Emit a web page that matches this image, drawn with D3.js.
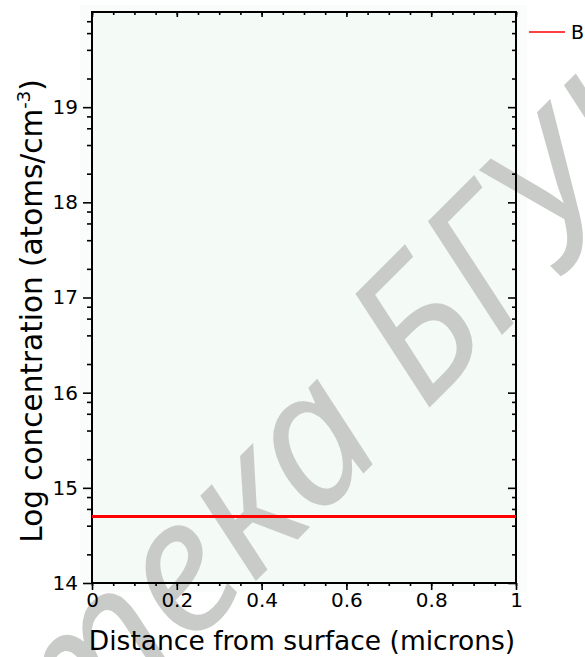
<!DOCTYPE html>
<html>
<head>
<meta charset="utf-8">
<script src="https://cdn.jsdelivr.net/npm/d3@7/dist/d3.min.js"></script>
<style>
  html, body { margin: 0; padding: 0; background: #ffffff; }
  svg { display: block; }
</style>
</head>
<body>
<svg id="chart" width="585" height="657"></svg>
<script>
// ---- data ----
const xDomain = [0, 1];
const yDomain = [14, 20];
const seriesName = "B";
const depth = [0, 1];
const logConc = [14.7, 14.7];
const xTickValues = [0, 0.2, 0.4, 0.6, 0.8, 1];
const xTickLabels = ["0", "0.2", "0.4", "0.6", "0.8", "1"];
const yTickValues = [14, 15, 16, 17, 18, 19];
const yTickLabels = ["14", "15", "16", "17", "18", "19"];
const xMinorStep = 0.05;
const yMinorMultiples = [2, 4, 6, 8];
const xTitle = "Distance from surface (microns)";
const yTitle = "Log concentration (atoms/cm";
const yTitleSup = "-3";
const watermark = "Библиотека БГУИР";

// ---- layout ----
const L = 92, R = 516, T = 12, B = 583;
const svg = d3.select("#chart");
const x = d3.scaleLinear().domain(xDomain).range([L, R]);
const y = d3.scaleLinear().domain(yDomain).range([B, T]);

const xMinor = d3.range(0, 21).map(i => +(i * xMinorStep).toFixed(2)).filter(v => v >= xDomain[0] && v <= xDomain[1]);
const yMinor = [];
for (let d = yDomain[0]; d < yDomain[1]; d++) {
  yMinorMultiples.forEach(m => yMinor.push(d + Math.log10(m)));
}

// panel backgrounds
svg.append("rect").attr("x", 80).attr("y", 5).attr("width", 447).attr("height", 587).attr("fill", "#fafcfb");
svg.append("rect").attr("x", L).attr("y", T).attr("width", R - L).attr("height", B - T).attr("fill", "#f4faf6");

// watermark
const wm = svg.append("text")
  .attr("font-family", "'Noto Sans', 'Liberation Sans', sans-serif")
  .attr("font-style", "italic")
  .attr("font-size", 186)
  .attr("fill", "#c9cbc9")
  .text(watermark);
const wmNode = wm.node();
const bIndex = watermark.indexOf("Б", 2);
const p = wmNode.getStartPositionOfChar(bIndex);
wm.attr("transform", `translate(425,412) rotate(-45) translate(${-p.x},${-p.y})`);

const font = "'DejaVu Sans', Verdana, sans-serif";

function styleAxis(g) {
  g.select(".domain").remove();
  g.selectAll(".tick line").attr("stroke", "#000").attr("stroke-width", 1.6);
  g.selectAll(".tick text").attr("fill", "#000").attr("font-family", font).attr("font-size", 20);
}

// left axis
svg.append("g").attr("transform", `translate(${L},0)`)
  .call(d3.axisLeft(y).tickValues(yTickValues).tickSize(9).tickPadding(5).tickFormat((d, i) => yTickLabels[i]))
  .call(styleAxis);
svg.append("g").attr("transform", `translate(${L},0)`)
  .call(d3.axisLeft(y).tickValues(yMinor).tickSize(5).tickFormat(""))
  .call(styleAxis);
// right axis (inward ticks)
svg.append("g").attr("transform", `translate(${R},0)`)
  .call(d3.axisLeft(y).tickValues(yTickValues).tickSize(8).tickFormat(""))
  .call(styleAxis);
svg.append("g").attr("transform", `translate(${R},0)`)
  .call(d3.axisLeft(y).tickValues(yMinor).tickSize(4).tickFormat(""))
  .call(styleAxis);
// bottom axis
svg.append("g").attr("transform", `translate(0,${B})`)
  .call(d3.axisBottom(x).tickValues(xTickValues).tickSize(7).tickPadding(3).tickFormat((d, i) => xTickLabels[i]))
  .call(styleAxis);
svg.append("g").attr("transform", `translate(0,${B})`)
  .call(d3.axisBottom(x).tickValues(xMinor).tickSize(3).tickFormat(""))
  .call(styleAxis);
// top axis (inward ticks)
svg.append("g").attr("transform", `translate(0,${T})`)
  .call(d3.axisBottom(x).tickValues(xTickValues).tickSize(5).tickFormat(""))
  .call(styleAxis);
svg.append("g").attr("transform", `translate(0,${T})`)
  .call(d3.axisBottom(x).tickValues(xMinor).tickSize(3).tickFormat(""))
  .call(styleAxis);

// frame
svg.append("rect").attr("x", L).attr("y", T).attr("width", R - L).attr("height", B - T)
  .attr("fill", "none").attr("stroke", "#000").attr("stroke-width", 2);

// series line
const line = d3.line().x(d => x(d[0])).y(d => y(d[1]));
svg.append("path")
  .datum(depth.map((d, i) => [d, logConc[i]]))
  .attr("d", line)
  .attr("fill", "none")
  .attr("stroke", "#ff0000")
  .attr("stroke-width", 3);

// legend
svg.append("line").attr("x1", 529).attr("x2", 565).attr("y1", 32).attr("y2", 32)
  .attr("stroke", "#ff0000").attr("stroke-width", 1.5);
svg.append("text").attr("x", 571).attr("y", 39).attr("font-family", font).attr("font-size", 19)
  .attr("fill", "#000").text(seriesName);

// axis titles
svg.append("text").attr("x", 302).attr("y", 650).attr("text-anchor", "middle")
  .attr("font-family", font).attr("font-size", 26.5).attr("fill", "#000").text(xTitle);

const yt = svg.append("text")
  .attr("transform", `translate(42,311) rotate(-90)`)
  .attr("text-anchor", "middle")
  .attr("font-family", font).attr("font-size", 29.5).attr("fill", "#000");
yt.append("tspan").text(yTitle);
yt.append("tspan").attr("font-size", 18).attr("dy", -12).text(yTitleSup);
yt.append("tspan").attr("dy", 12).text(")");
</script>
</body>
</html>
